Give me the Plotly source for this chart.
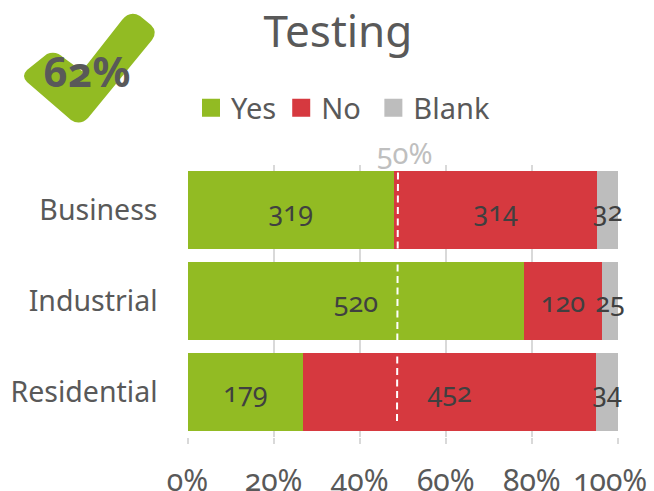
import plotly.graph_objects as go

categories = ["Business", "Industrial", "Residential"]
yes_values = [319, 520, 179]
no_values = [314, 120, 452]
blank_values = [32, 25, 34]
x_ticks = [0, 0.2, 0.4, 0.6, 0.8, 1.0]
x_tick_labels = ["0%", "20%", "40%", "60%", "80%", "100%\u00a0\u00a0"]
series = [("Yes", yes_values, "#92BB23"), ("No", no_values, "#D6393F"), ("Blank", blank_values, "#BDBDBD")]
legend_names = ["Yes", "No\u00a0", "Blank"]
FONT = "Noto Sans"
GREY = "#595959"
W, H = 654, 491
L, R, T, B = 187.5, 618, 165, 437

def px(x): return x / W
def py(y): return 1 - y / H

fig = go.Figure()
for name, vals, col in series:
    fig.add_trace(go.Bar(y=categories, x=vals, orientation="h", name=name, marker=dict(color=col, line_width=0),
                         text=[str(v) for v in vals], textposition="inside", insidetextanchor="middle",
                         textangle=0, constraintext="none", cliponaxis=False,
                         textfont=dict(family=FONT, size=27, color="#404040"), showlegend=False))
for (name, vals, col), label in zip(series, legend_names):
    fig.add_trace(go.Scatter(x=[None], y=[None], mode="markers", name=label,
                             marker=dict(symbol="square", size=16, color=col, line=dict(color=col, width=2))))

check = ("M 47,54 Q 56,50 64,58 L 82,71 L 122,20 Q 130,10 140,16 L 151,25 Q 158,32 152,40 "
         "L 88,118 Q 80,126 71,120 L 27,82 Q 21,76 27,70 Z")
def to_paper(path):
    out = path.replace(",", " ").split()
    res, i = [], 0
    while i < len(out):
        if out[i] in "MLQZ":
            res.append(out[i]); i += 1
        else:
            res.append(f"{px(float(out[i])):.5f},{py(float(out[i+1])):.5f}"); i += 2
    return " ".join(res)

fig.update_layout(
    width=W, height=H, margin=dict(l=0, r=0, t=0, b=0, autoexpand=False), paper_bgcolor="white", plot_bgcolor="white",
    barmode="stack", barnorm="fraction", bargap=0.143,
    font=dict(family=FONT, color=GREY),
    title=dict(text="Testing", font=dict(size=44, family=FONT, color=GREY), x=338 / W, xanchor="center", y=py(32), yanchor="middle"),
    xaxis=dict(domain=[px(L), px(R)], range=[0, 1], tickvals=x_ticks, ticktext=x_tick_labels, tickfont=dict(size=30, color=GREY),
               showgrid=True, gridcolor="#D9D9D9", gridwidth=2, ticks="outside", ticklen=6, tickwidth=2, tickcolor="#D9D9D9",
               showline=False, zeroline=False, automargin=False, ticklabelstandoff=11, ticklabeloverflow="allow"),
    yaxis=dict(domain=[py(B), py(T)], autorange="reversed", tickfont=dict(size=28.5, color=GREY), showgrid=False,
               showline=False, ticks="", automargin=False, ticklabelstandoff=29),
    legend=dict(orientation="h", traceorder="normal", x=191 / W, xanchor="left", y=py(108), yanchor="middle",
                font=dict(size=29, color=GREY), bgcolor="rgba(0,0,0,0)", tracegroupgap=0),
    shapes=[
        dict(type="path", xref="paper", yref="paper", path=to_paper(check), fillcolor="#92BB23", line_width=0, layer="below"),
        dict(type="line", xref="paper", yref="paper", x0=px(397), x1=px(398), y0=py(421), y1=py(168),
             line=dict(color="white", width=2, dash="7px,4.5px"), layer="above"),
    ],
    annotations=[
        dict(text="<b>62%</b>", xref="paper", yref="paper", x=px(87), y=py(70), xanchor="center", yanchor="middle", showarrow=False,
             font=dict(size=42, family=FONT, color=GREY)),
        dict(text="50%", xref="paper", yref="paper", x=px(405), y=py(152), xanchor="center", yanchor="middle", showarrow=False,
             font=dict(size=29, family=FONT, color="#BFBFBF")),
    ],
)
css = ("document.body.style.margin='0';var s=document.createElement('style');"
       "s.textContent='svg text{font-feature-settings:\"onum\" 1 !important;}';document.head.appendChild(s);")
fig.write_html("out.html", post_script=css, config=dict(displayModeBar=False))
